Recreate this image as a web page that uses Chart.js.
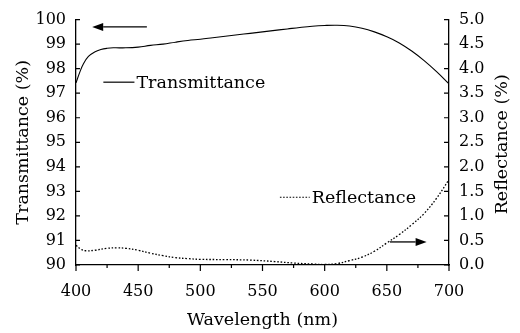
<!DOCTYPE html>
<html>
<head>
<meta charset="utf-8">
<script src="https://cdn.jsdelivr.net/npm/chart.js@4.4.1/dist/chart.umd.min.js"></script>
<style>
  html, body { margin: 0; padding: 0; background: #fff; }
  #wrap { width: 520px; height: 333px; }
</style>
</head>
<body>
<div id="wrap"><canvas id="chart" width="520" height="333"></canvas></div>
<script>
// values
const transWavelengths = [400, 403, 406, 410, 415, 420, 425, 430, 440, 450, 460, 470, 480, 490, 500, 510, 520, 530, 540, 550,
  560, 570, 580, 590, 600, 610, 620, 630, 640, 650, 660, 670, 680, 690, 700];
const transValues = [97.42, 97.85, 98.2, 98.5, 98.68, 98.78, 98.83, 98.85, 98.85, 98.88, 98.95, 99.0, 99.08, 99.15, 99.2, 99.26, 99.32, 99.38, 99.44, 99.5,
  99.56, 99.62, 99.68, 99.73, 99.76, 99.77, 99.74, 99.65, 99.5, 99.3, 99.05, 98.72, 98.33, 97.88, 97.38];

const reflWavelengths = [400, 404, 408, 415, 425, 433, 440, 450, 460, 470, 480, 490, 500, 520, 540, 560, 575, 590, 600,
  610, 620, 630, 640, 650, 660, 670, 680, 690, 700];
const reflValues = [0.40, 0.32, 0.29, 0.30, 0.34, 0.35, 0.34, 0.30, 0.24, 0.19, 0.15, 0.13, 0.115, 0.11, 0.10, 0.07, 0.04, 0.02, 0.01,
  0.03, 0.09, 0.16, 0.28, 0.45, 0.62, 0.82, 1.05, 1.36, 1.74];

const xTitle = 'Wavelength (nm)';
const yTitle = 'Transmittance (%)';
const y2Title = 'Reflectance (%)';
const seriesNames = ['Transmittance', 'Reflectance'];

const SERIF = '"DejaVu Serif", serif';

function toPoints(xs, ys) {
  return xs.map((x, i) => ({ x: x, y: ys[i] }));
}

function arrow(ctx, x1, y1, x2, y2) {
  const a = Math.atan2(y2 - y1, x2 - x1);
  const len = 11, half = 4;
  ctx.beginPath();
  ctx.moveTo(x1, y1);
  ctx.lineTo(x2 - len * Math.cos(a), y2 - len * Math.sin(a));
  ctx.stroke();
  ctx.beginPath();
  ctx.moveTo(x2, y2);
  ctx.lineTo(x2 - len * Math.cos(a) + half * Math.sin(a), y2 - len * Math.sin(a) - half * Math.cos(a));
  ctx.lineTo(x2 - len * Math.cos(a) - half * Math.sin(a), y2 - len * Math.sin(a) + half * Math.cos(a));
  ctx.closePath();
  ctx.fill();
}

// tick marks, legend keys, arrows and the right-hand title
const extras = {
  id: 'extras',
  afterDraw(chart) {
    const ctx = chart.ctx;
    const x = chart.scales.x, y = chart.scales.y, y2 = chart.scales.y2;
    const area = chart.chartArea;
    ctx.save();
    ctx.strokeStyle = '#000';
    ctx.fillStyle = '#000';
    ctx.lineWidth = 1.2;

    ctx.beginPath();
    y.ticks.forEach(t => {
      const py = y.getPixelForValue(t.value);
      ctx.moveTo(area.left, py); ctx.lineTo(area.left + 4, py);
    });
    y2.ticks.forEach(t => {
      const py = y2.getPixelForValue(t.value);
      ctx.moveTo(area.right, py); ctx.lineTo(area.right - 5, py);
    });
    x.ticks.forEach(t => {
      const px = x.getPixelForValue(t.value);
      const major = t.value % 50 === 0;
      ctx.moveTo(px, area.bottom); ctx.lineTo(px, area.bottom + (major ? 6 : 3));
    });
    ctx.stroke();

    // arrows pointing to each axis
    ctx.lineWidth = 1.3;
    arrow(ctx, x.getPixelForValue(457), y.getPixelForValue(99.7), x.getPixelForValue(413), y.getPixelForValue(99.7));
    arrow(ctx, x.getPixelForValue(652.5), y2.getPixelForValue(0.47), x.getPixelForValue(682), y2.getPixelForValue(0.47));

    // legend keys
    ctx.font = '17.5px ' + SERIF;
    ctx.textBaseline = 'middle';
    ctx.textAlign = 'left';
    let ly = y.getPixelForValue(97.45);
    let lx1 = x.getPixelForValue(422), lx2 = x.getPixelForValue(447);
    ctx.lineWidth = 1.2;
    ctx.beginPath(); ctx.moveTo(lx1, ly); ctx.lineTo(lx2, ly); ctx.stroke();
    ctx.fillText(seriesNames[0], lx2 + 2, ly + 1);

    ly = y2.getPixelForValue(1.38);
    lx1 = x.getPixelForValue(564); lx2 = x.getPixelForValue(588);
    ctx.setLineDash([1.6, 1.6]);
    ctx.beginPath(); ctx.moveTo(lx1, ly); ctx.lineTo(lx2, ly); ctx.stroke();
    ctx.setLineDash([]);
    ctx.fillText(seriesNames[1], lx2 + 2, ly + 1);

    // right axis title, reading bottom to top
    ctx.translate(502, (area.top + area.bottom) / 2 + 2);
    ctx.rotate(-Math.PI / 2);
    ctx.textAlign = 'center';
    ctx.fillText(y2Title, 0, 0);
    ctx.restore();
  }
};

const tickFont = { family: SERIF, size: 16 };
const titleFont = { family: SERIF, size: 17.5 };

new Chart(document.getElementById('chart').getContext('2d'), {
  type: 'line',
  data: {
    datasets: [
      {
        label: seriesNames[0],
        data: toPoints(transWavelengths, transValues),
        yAxisID: 'y',
        borderColor: '#000',
        borderWidth: 1.1,
        pointRadius: 0,
        tension: 0.4,
        fill: false
      },
      {
        label: seriesNames[1],
        data: toPoints(reflWavelengths, reflValues),
        yAxisID: 'y2',
        borderColor: '#000',
        borderWidth: 1.3,
        borderDash: [1.6, 1.8],
        pointRadius: 0,
        tension: 0.4,
        fill: false
      }
    ]
  },
  options: {
    responsive: false,
    animation: false,
    layout: { padding: { top: 17, left: 0, right: 0, bottom: 0 } },
    plugins: { legend: { display: false }, tooltip: { enabled: false } },
    scales: {
      x: {
        type: 'linear',
        min: 400, max: 700,
        grid: { display: false, drawTicks: false },
        border: { display: true, color: '#000', width: 1.3 },
        ticks: {
          stepSize: 25, autoSkip: false, maxRotation: 0, padding: 17,
          color: '#000', font: tickFont,
          callback: v => (v % 50 === 0 ? String(v) : '')
        },
        title: { display: true, text: xTitle, color: '#000', font: titleFont, padding: { top: 0, bottom: 2 } },
        afterFit: s => { s.height = 68; }
      },
      y: {
        position: 'left',
        min: 90, max: 100,
        grid: { display: false, drawTicks: false },
        border: { display: true, color: '#000', width: 1.3 },
        ticks: { stepSize: 1, padding: 10, color: '#000', font: tickFont },
        title: { display: true, text: yTitle, color: '#000', font: titleFont, padding: { top: 13, bottom: 0 } },
        afterFit: s => { s.width = 76; }
      },
      y2: {
        position: 'right',
        min: 0, max: 5,
        grid: { display: false, drawTicks: false },
        border: { display: true, color: '#000', width: 1.3 },
        ticks: { stepSize: 0.5, padding: 10, color: '#000', font: tickFont, callback: v => v.toFixed(1) },
        afterFit: s => { s.width = 71; }
      }
    }
  },
  plugins: [extras]
});
</script>
</body>
</html>
